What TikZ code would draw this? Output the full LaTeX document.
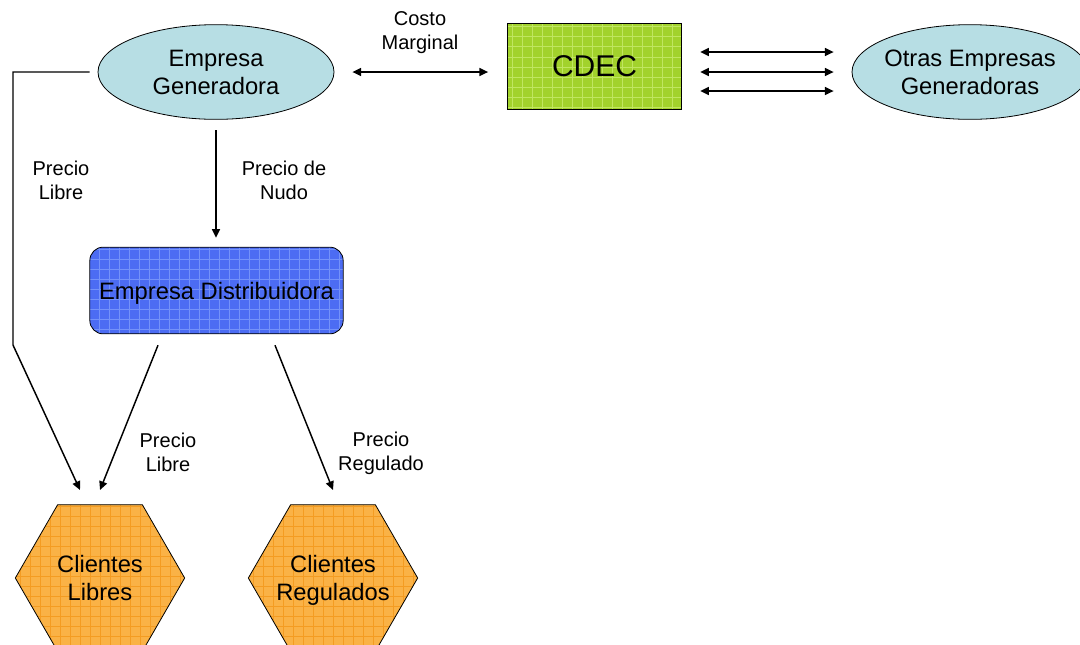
\documentclass[tikz,border=0pt]{standalone}
\usepackage{fontspec}
\setmainfont{Liberation Sans}
\usetikzlibrary{arrows.meta,shapes.geometric,calc}
\definecolor{celeste}{RGB}{183,222,228}
\definecolor{verde}{RGB}{162,210,44}
\definecolor{verdeclaro}{RGB}{192,230,96}
\definecolor{azul}{RGB}{76,108,243}
\definecolor{azulclaro}{RGB}{116,146,250}
\definecolor{naranja}{RGB}{250,178,70}
\definecolor{naranjaosc}{RGB}{244,156,34}
\newcommand{\dos}[2]{\makebox[0pt]{\raisebox{0pt}[\dimexpr\height+4pt\relax][\depth]{\begin{tabular}{@{}c@{}}#1\\#2\end{tabular}}}}

\begin{document}
\begin{tikzpicture}[x=0.75pt,y=-0.75pt,
  >={Triangle[length=6.5pt,width=6pt]},
  fleche/.style={line width=1.1pt},
  grande/.style={font=\fontsize{17.8}{21}\selectfont},
  petit/.style={font=\fontsize{15}{18}\selectfont,align=center},
  cuadro/.style={path picture={\draw[#1,line width=0.5pt] (path picture bounding box.south west) grid[step=7.5pt] (path picture bounding box.north east);}},
  empresa/.style={ellipse,draw,line width=0.6pt,fill=celeste,minimum width=177pt,minimum height=71pt,inner sep=0pt,grande},
  cliente/.style={regular polygon,regular polygon sides=6,draw,line width=0.6pt,fill=naranja,cuadro=naranjaosc,minimum size=127pt,inner sep=0pt,grande}]
\useasboundingbox (0,0) rectangle (1080,644);
\clip (0,0) rectangle (1080,644);
% les noeuds
\node (EG) at (216,72) [empresa] {\dos{Empresa}{Generadora}};
\node (OE) at (970,72) [empresa] {\dos{Otras Empresas}{Generadoras}};
\node (CDEC) at (594.5,66.5) [rectangle,draw,line width=0.6pt,fill=verde,cuadro=verdeclaro,minimum width=131pt,minimum height=65pt,font=\fontsize{22.5}{26}\selectfont] {CDEC};
\node (ED) at (216.5,290.5) [rectangle,rounded corners=10pt,draw,line width=0.6pt,fill=azul,cuadro=azulclaro,minimum width=190pt,minimum height=65pt,grande] {\raisebox{0pt}[\dimexpr\height+4pt\relax][\depth]{Empresa Distribuidora}};
\node (CL) at (100,578) [cliente] {\dos{Clientes}{Libres}};
\node (CR) at (333,578) [cliente] {\dos{Clientes}{Regulados}};

% les etiquettes
\node (cm) at (420,33) [petit] {Costo\\Marginal};
\node (pn) at (284,180) [petit] {Precio de\\Nudo};
\node (pl) at (61,180) [petit] {Precio\\Libre};
\node (pld) at (168,452) [petit] {Precio\\Libre};
\node (pr) at (381,453) [petit] {Precio\\Regulado};

% points libres
\coordinate (codo) at (13,345);
\coordinate (bl1) at (80,490);
\coordinate (bl2) at (100,490);
\coordinate (br) at (333,490);

% les fleches
\draw[fleche,<->,shorten <=13.5pt,shorten >=14pt] (EG.east) -- (EG.east -| CDEC.west);
\foreach \dy in {-20,0,19}
  \draw[fleche,<->,shorten <=13.5pt,shorten >=13.5pt] ($(CDEC.east|-OE.west)+(0,\dy)$) -- ($(OE.west)+(0,\dy)$);
\draw[fleche,->,shorten <=8pt,shorten >=6.75pt] (EG.south) -- (EG.south |- ED.north);
\draw[fleche,->,shorten <=6pt] (EG.west) -| (codo) -- (bl1);
\draw[fleche,->] ($(ED.south)+(-58.5,11)$) -- (bl2);
\draw[fleche,->] ($(ED.south)+(58.5,11)$) -- (br);
\end{tikzpicture}
\end{document}
